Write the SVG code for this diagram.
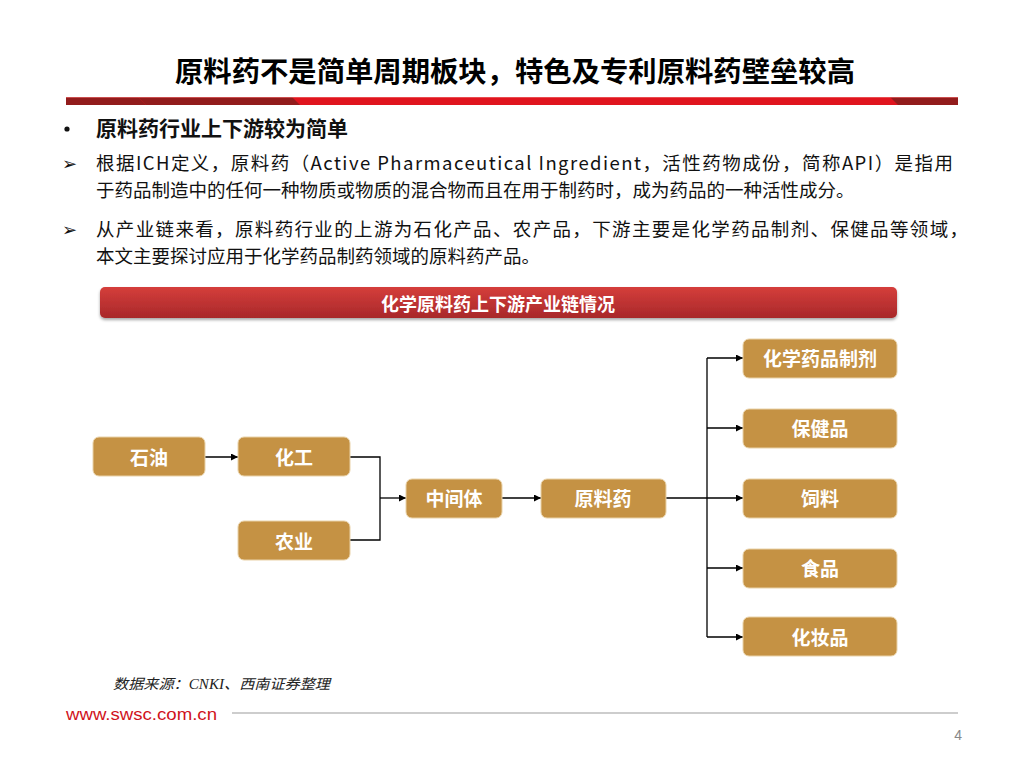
<svg xmlns="http://www.w3.org/2000/svg" width="1024" height="768" viewBox="0 0 1024 768">
<defs>
<linearGradient id="ban" x1="0" y1="0" x2="0" y2="1">
<stop offset="0" stop-color="#d53e3b"/>
<stop offset="1" stop-color="#a8282a"/>
</linearGradient>
<filter id="sh" x="-5%" y="-30%" width="110%" height="170%">
<feDropShadow dx="0" dy="2" stdDeviation="1.5" flood-color="#000" flood-opacity="0.35"/>
</filter>
<marker id="ar" viewBox="0 0 10 10" refX="10" refY="5" markerWidth="7" markerHeight="7" orient="auto" markerUnits="userSpaceOnUse">
<path d="M0,0 L10,5 L0,10 z" fill="#000"/>
</marker>
</defs>
<style>
.cjk{font-family:"Noto Sans CJK SC","Noto Sans",sans-serif}
.body{font-size:18.5px;fill:#111}
.arrowb{font-family:"DejaVu Sans",sans-serif;font-size:18px;fill:#111}
.node rect{fill:#c59244;stroke:#e9d2a8;stroke-width:1}
.node text{font-family:"Noto Sans CJK SC",sans-serif;font-weight:bold;font-size:19px;fill:#fff;text-anchor:middle;dominant-baseline:central}
.conn{fill:none;stroke:#000;stroke-width:1.3}
</style>
<rect width="1024" height="768" fill="#fff"/>
<text x="175" y="82" class="cjk" font-size="28" font-weight="bold" fill="#000" textLength="680" lengthAdjust="spacingAndGlyphs">原料药不是简单周期板块，特色及专利原料药壁垒较高</text>
<g id="redbar">
<rect x="66" y="97" width="892" height="8" fill="#e0141e"/>
<polygon points="66,97 138,97 146,105 66,105" fill="#921c1c"/>
<polygon points="138,97 292,97 300,105 146,105" fill="#921c1c"/>
<polygon points="890,97 958,97 958,105 898,105" fill="#921c1c"/>
<rect x="66" y="97" width="892" height="1" fill="#f07070" opacity="0.6"/>
</g>
<g id="text-block" class="cjk">
<circle cx="67" cy="129" r="2.6" fill="#111"/>
<text x="96" y="136" font-size="21" font-weight="bold" fill="#111">原料药行业上下游较为简单</text>
<text x="62" y="170" class="arrowb">➢</text>
<text x="96" y="170" class="body" textLength="857" lengthAdjust="spacing">根据ICH定义，原料药（Active Pharmaceutical Ingredient，活性药物成份，简称API）是指用</text>
<text x="96" y="197" class="body">于药品制造中的任何一种物质或物质的混合物而且在用于制药时，成为药品的一种活性成分。</text>
<text x="62" y="236" class="arrowb">➢</text>
<text x="96" y="236" class="body" textLength="872" lengthAdjust="spacing">从产业链来看，原料药行业的上游为石化产品、农产品，下游主要是化学药品制剂、保健品等领域，</text>
<text x="96" y="263" class="body">本文主要探讨应用于化学药品制药领域的原料药产品。</text>
</g>
<g id="banner">
<rect x="100" y="287" width="797" height="31" rx="5" fill="url(#ban)" filter="url(#sh)"/>
<text x="498" y="303" class="cjk" font-size="18" font-weight="bold" fill="#fff" text-anchor="middle" dominant-baseline="central">化学原料药上下游产业链情况</text>
</g>
<g id="connectors">
<path class="conn" d="M205,457 H238" marker-end="url(#ar)"/>
<path class="conn" d="M350,457 H380 V540 H350"/>
<path class="conn" d="M380,498 H406" marker-end="url(#ar)"/>
<path class="conn" d="M502,498 H541" marker-end="url(#ar)"/>
<path class="conn" d="M666,498 H707"/>
<path class="conn" d="M707,358 V637"/>
<path class="conn" d="M707,358 H743" marker-end="url(#ar)"/>
<path class="conn" d="M707,428 H743" marker-end="url(#ar)"/>
<path class="conn" d="M707,498 H743" marker-end="url(#ar)"/>
<path class="conn" d="M707,568 H743" marker-end="url(#ar)"/>
<path class="conn" d="M707,637 H743" marker-end="url(#ar)"/>
</g>
<g id="n-shiyou" class="node"><rect x="93" y="437" width="112" height="39" rx="6"/><text x="149" y="456">石油</text></g>
<g id="n-huagong" class="node"><rect x="238" y="437" width="112" height="39" rx="6"/><text x="294" y="456">化工</text></g>
<g id="n-nongye" class="node"><rect x="238" y="521" width="112" height="39" rx="6"/><text x="294" y="540">农业</text></g>
<g id="n-zhongjianti" class="node"><rect x="406" y="479" width="96" height="39" rx="6"/><text x="454" y="497">中间体</text></g>
<g id="n-yuanliaoyao" class="node"><rect x="541" y="479" width="125" height="39" rx="6"/><text x="603" y="497">原料药</text></g>
<g id="n-zhiji" class="node"><rect x="743" y="339" width="154" height="39" rx="6"/><text x="820" y="357">化学药品制剂</text></g>
<g id="n-baojianpin" class="node"><rect x="743" y="409" width="154" height="39" rx="6"/><text x="820" y="427">保健品</text></g>
<g id="n-siliao" class="node"><rect x="743" y="479" width="154" height="39" rx="6"/><text x="820" y="497">饲料</text></g>
<g id="n-shipin" class="node"><rect x="743" y="549" width="154" height="39" rx="6"/><text x="820" y="567">食品</text></g>
<g id="n-huazhuangpin" class="node"><rect x="743" y="617" width="154" height="39" rx="6"/><text x="820" y="636">化妆品</text></g>
<g id="footer">
<text x="113" y="689" font-family="'Liberation Serif','Noto Sans CJK SC',serif" font-style="italic" font-size="14" fill="#222" textLength="217" lengthAdjust="spacingAndGlyphs">数据来源：CNKI、西南证券整理</text>
<text x="66" y="720" font-family="'Liberation Sans',Arial,sans-serif" font-size="16" fill="#d0121b" textLength="151" lengthAdjust="spacingAndGlyphs">www.swsc.com.cn</text>
<line x1="232" y1="713" x2="958" y2="713" stroke="#bdbdbd" stroke-width="1.5"/>
<text x="962" y="740" font-family="'Liberation Sans',Arial,sans-serif" font-size="14" fill="#888" text-anchor="end">4</text>
</g>
</svg>
